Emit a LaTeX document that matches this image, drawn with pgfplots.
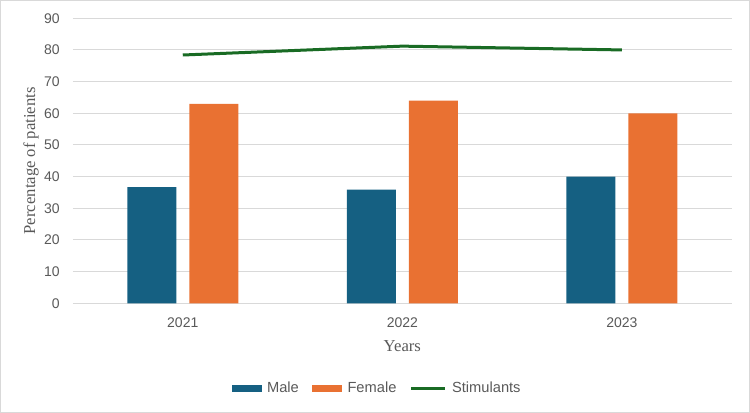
\documentclass[border=0pt]{standalone}
\usepackage{pgfplots}
\pgfplotsset{compat=1.18}
\usepackage{fontspec}
\setmainfont{Liberation Sans}
\newfontfamily\seriffont{Liberation Serif}
\definecolor{maleblue}{HTML}{156082}
\definecolor{femaleorange}{HTML}{E97132}
\definecolor{stimgreen}{HTML}{196B24}
\definecolor{gridgray}{HTML}{D9D9D9}
\definecolor{textgray}{HTML}{595959}
\begin{document}
\begin{tikzpicture}[x=1pt,y=1pt]
\path[use as bounding box] (0,0) rectangle (562.5,309.75);
\draw[gridgray, line width=0.75pt] (0.375,0.375) rectangle (562.125,309.375);
\begin{axis}[
  at={(54.75pt,82.3pt)}, anchor=south west,
  scale only axis, width=494pt, height=213.75pt,
  xmin=-0.5, xmax=2.5, ymin=0, ymax=90,
  xtick={0,1,2}, xticklabels={2021,2022,2023},
  ytick={0,10,...,90},
  ymajorgrids, grid style={gridgray, line width=0.75pt},
  axis line style={draw=none}, major tick length=0pt,
  tick label style={font=\fontsize{10.5}{12}\selectfont, text=textgray},
  /pgf/number format/assume math mode=true,
  xticklabel style={anchor=north, yshift=-7.4pt},
  yticklabel style={anchor=east, xshift=-6.4pt},
  xlabel={Years}, ylabel={Percentage of patients},
  xlabel style={at={(axis description cs:0.5,-0.1498)}, anchor=center, font=\seriffont\fontsize{12.5}{14}\selectfont, text=textgray},
  ylabel style={at={(axis description cs:-0.0638,0.5)}, anchor=center, font=\seriffont\fontsize{12.5}{14}\selectfont, text=textgray},
  legend style={at={(axis description cs:0.4623,-0.2996)}, anchor=center, draw=none, fill=none,
    legend columns=-1, font=\fontsize{11}{12}\selectfont, text=textgray,
    /tikz/every odd column/.append style={column sep=2pt},
    /tikz/every even column/.append style={column sep=8pt}},
]
\addplot[ybar, bar width=36.75pt, bar shift=-23.25pt, fill=maleblue, draw=none,
  legend image code/.code={\fill[maleblue] (0pt,-2.6pt) rectangle (22.5pt,2.6pt);}]
  coordinates {(0,36.7) (1,35.9) (2,40.0)};
\addlegendentry{Male}
\addplot[ybar, bar width=36.75pt, bar shift=23.25pt, fill=femaleorange, draw=none,
  legend image code/.code={\fill[femaleorange] (0pt,-2.6pt) rectangle (22.5pt,2.6pt);}]
  coordinates {(0,63.0) (1,64.0) (2,60.0)};
\addlegendentry{Female}
\addplot[stimgreen, line width=2.25pt, mark=none,
  legend image code/.code={\draw[stimgreen, line width=2.25pt] (0pt,0pt) -- (25.5pt,0pt);}]
  coordinates {(0,78.4) (1,81.2) (2,80.0)};
\addlegendentry{Stimulants}
\end{axis}
\end{tikzpicture}
\end{document}
